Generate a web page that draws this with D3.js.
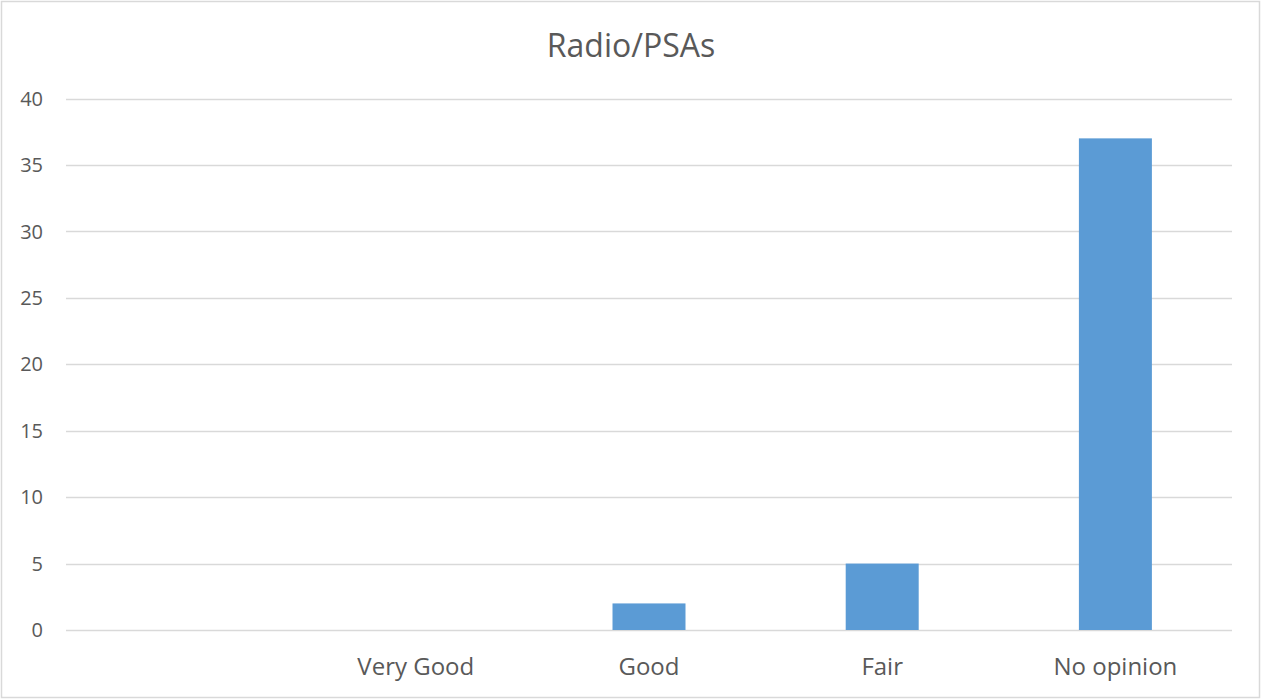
<!DOCTYPE html>
<html>
<head>
<meta charset="utf-8">
<script src="https://cdn.jsdelivr.net/npm/d3@7"></script>
<style>
  html, body { margin: 0; padding: 0; background: #fff; }
  svg text { font-family: "Open Sans", sans-serif; fill: #595959; }
</style>
</head>
<body>
<svg id="chart" width="1261" height="700"></svg>
<script>
// Survey responses for Radio/PSAs
const categories = ["", "Very Good", "Good", "Fair", "No opinion"];
const counts = [0, 0, 2, 5, 37];
const yTicks = [0, 5, 10, 15, 20, 25, 30, 35, 40];
const title = "Radio/PSAs";

const W = 1261, H = 700;
const margin = { top: 98.5, right: 29, bottom: 70, left: 66 };
const svg = d3.select("#chart");

// outer chart border
svg.append("rect")
  .attr("x", 1.5).attr("y", 1.5)
  .attr("width", W - 3).attr("height", H - 4)
  .attr("fill", "#fff").attr("stroke", "#d9d9d9").attr("stroke-width", 1.5);

const x = d3.scaleBand()
  .domain(categories.map((c, i) => i))
  .range([margin.left, W - margin.right])
  .paddingInner(0.687).paddingOuter(0.3435);

const y = d3.scaleLinear()
  .domain([0, 40])
  .range([630, margin.top]);

// horizontal gridlines
svg.append("g")
  .selectAll("line")
  .data(yTicks)
  .join("line")
  .attr("x1", margin.left).attr("x2", W - margin.right)
  .attr("y1", d => Math.round(y(d)) + 0.5).attr("y2", d => Math.round(y(d)) + 0.5)
  .attr("stroke", "#d9d9d9").attr("stroke-width", 1.5);

// y axis labels
svg.append("g")
  .selectAll("text")
  .data(yTicks)
  .join("text")
  .attr("x", 43).attr("y", d => y(d))
  .attr("dy", "0.36em")
  .attr("text-anchor", "end")
  .attr("font-size", 20)
  .text(d => d);

// bars
svg.append("g")
  .selectAll("rect")
  .data(counts)
  .join("rect")
  .attr("x", (d, i) => x(i))
  .attr("width", x.bandwidth())
  .attr("y", d => y(d))
  .attr("height", d => y(0) - y(d))
  .attr("fill", "#5b9bd5");

// category labels
const step = (W - margin.right - margin.left) / categories.length;
svg.append("g")
  .selectAll("text")
  .data(categories)
  .join("text")
  .attr("x", (d, i) => margin.left + step * (i + 0.5))
  .attr("y", 675)
  .attr("text-anchor", "middle")
  .attr("font-size", 24)
  .text(d => d);

// title
svg.append("text")
  .attr("x", 631).attr("y", 57)
  .attr("text-anchor", "middle")
  .attr("font-size", 32)
  .text(title);
</script>
</body>
</html>
